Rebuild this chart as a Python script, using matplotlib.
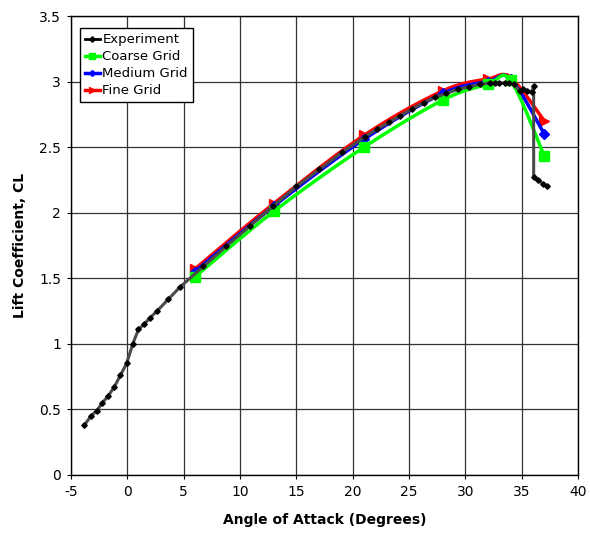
import matplotlib
matplotlib.use("Agg")
import matplotlib.pyplot as plt
import numpy as np
from matplotlib.ticker import FormatStrFormatter

plt.rcParams["axes.unicode_minus"] = False

# experiment
exp_aoa = [-3.8, -3.2, -2.7, -2.2, -1.7, -1.15, -0.6, -0.05, 0.5, 1.0, 1.5, 2.05,
           2.65, 3.65, 4.65, 6.75, 8.8, 10.9, 12.95, 15.0, 17.05, 19.05, 21.1,
           22.2, 23.25, 24.2, 25.25, 26.3, 27.3, 28.3, 29.3, 30.3, 31.3, 32.2,
           32.6, 33.0, 33.5, 33.9, 34.3, 34.8, 35.1, 35.5, 35.9, 36.05, 36.05,
           36.4, 36.9, 37.2]
exp_cl = [0.38, 0.45, 0.49, 0.55, 0.60, 0.67, 0.76, 0.85, 1.00, 1.11, 1.15, 1.20,
          1.25, 1.34, 1.43, 1.59, 1.745, 1.90, 2.05, 2.20, 2.33, 2.46, 2.58,
          2.64, 2.69, 2.74, 2.79, 2.84, 2.88, 2.91, 2.94, 2.96, 2.98, 2.99,
          2.99, 2.99, 2.99, 2.99, 2.98, 2.93, 2.94, 2.93, 2.92, 2.97, 2.27,
          2.25, 2.22, 2.20]

# CFD
cfd_aoa = [6, 13, 21, 28, 32, 34, 37]
coarse_cl = [1.51, 2.01, 2.50, 2.86, 2.98, 3.01, 2.43]
medium_cl = [1.55, 2.05, 2.56, 2.91, 3.00, 3.02, 2.60]
fine_cl = [1.57, 2.07, 2.59, 2.93, 3.02, 3.03, 2.70]


def smooth(x, y, n=25):
    # Catmull-Rom, like the "smoothed line" option of a spreadsheet
    p = np.column_stack([x, y]).astype(float)
    p = np.vstack([p[0], p, p[-1]])
    out = []
    for i in range(1, len(p) - 2):
        p0, p1, p2, p3 = p[i - 1], p[i], p[i + 1], p[i + 2]
        t = np.linspace(0, 1, n)[:, None]
        seg = 0.5 * ((2 * p1) + (-p0 + p2) * t + (2 * p0 - 5 * p1 + 4 * p2 - p3) * t**2
                     + (-p0 + 3 * p1 - 3 * p2 + p3) * t**3)
        out.append(seg if i == 1 else seg[1:])
    out = np.vstack(out)
    return out[:, 0], out[:, 1]


fig = plt.figure(figsize=(5.9, 5.36), dpi=100)
ax = fig.add_axes([0.120, 0.114, 0.860, 0.856])

series = [("Fine Grid", fine_cl, "red", ">", 7),
          ("Medium Grid", medium_cl, "blue", "D", 5),
          ("Coarse Grid", coarse_cl, "#00ff00", "s", 7)]
handles = {}
for name, cl, col, mk, ms in series:
    sx, sy = smooth(cfd_aoa, cl)
    ax.plot(sx, sy, color=col, lw=2.5, zorder=3)
    ax.plot(cfd_aoa, cl, ls="none", marker=mk, ms=ms, color=col, zorder=3)
    handles[name], = ax.plot([], [], color=col, lw=2.5, marker=mk, ms=ms - 2)

ax.plot(exp_aoa, exp_cl, color="#4a4a4a", lw=2.2, zorder=4)
ax.plot(exp_aoa, exp_cl, ls="none", marker="D", ms=2.8, color="black", zorder=5)
handles["Experiment"], = ax.plot([], [], color="black", lw=2, marker="D", ms=2.8)

ax.set_xlim(-5, 40)
ax.set_ylim(0, 3.5)
ax.set_xticks(np.arange(-5, 41, 5))
ax.set_yticks(np.arange(0, 3.51, 0.5))
ax.yaxis.set_major_formatter(FormatStrFormatter("%g"))
ax.grid(True, color="#333333", lw=0.9)
ax.set_axisbelow(True)
for s in ax.spines.values():
    s.set_color("black")
    s.set_linewidth(1)
ax.tick_params(labelsize=10, direction="out", length=3, pad=4)

ax.set_xlabel("Angle of Attack (Degrees)", fontsize=10, fontweight="bold", labelpad=10)
ax.set_ylabel("Lift Coefficient, CL", fontsize=10, fontweight="bold", labelpad=9)

names = ["Experiment", "Coarse Grid", "Medium Grid", "Fine Grid"]
leg = ax.legend([handles[n] for n in names], names, loc="upper left",
                bbox_to_anchor=(0.018, 0.974), fontsize=9.5, fancybox=False,
                framealpha=1, edgecolor="black", handlelength=1.1,
                handletextpad=0.2, labelspacing=0.3, borderpad=0.4,
                borderaxespad=0)
leg.get_frame().set_linewidth(1)

fig.savefig("out.png", dpi=100)
